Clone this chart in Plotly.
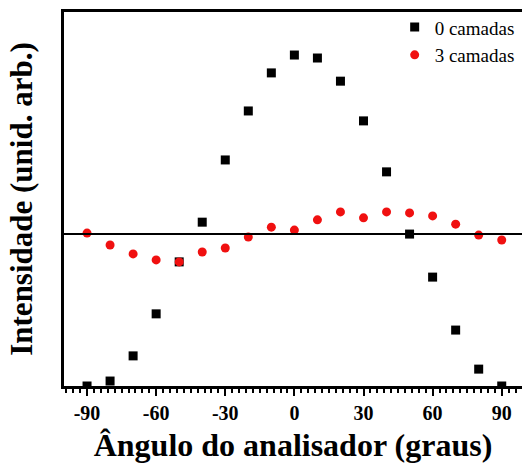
import plotly.graph_objects as go

angles = [-90, -80, -70, -60, -50, -40, -30, -20, -10, 0, 10, 20, 30, 40, 50, 60, 70, 80, 90]
camadas_0 = [0.0, 0.015, 0.091, 0.218, 0.375, 0.495, 0.683, 0.831, 0.946, 1.0,
             0.991, 0.921, 0.801, 0.647, 0.459, 0.329, 0.169, 0.051, 0.0]
camadas_3 = [0.462, 0.426, 0.399, 0.381, 0.375, 0.405, 0.417, 0.450, 0.480, 0.471,
             0.502, 0.526, 0.508, 0.526, 0.523, 0.514, 0.489, 0.456, 0.441]
ref_level = 0.459
x_ticks = [-90, -60, -30, 0, 30, 60, 90]

serif = "Liberation Serif"

fig = go.Figure()
fig.add_trace(go.Scatter(x=angles, y=camadas_0, mode="markers", name="0 camadas",
                         marker=dict(symbol="square", size=9, color="black")))
fig.add_trace(go.Scatter(x=angles, y=camadas_3, mode="markers", name="3 camadas",
                         marker=dict(symbol="circle", size=9, color="#f01010")))
fig.add_hline(y=ref_level, line=dict(color="black", width=2))

fig.update_layout(
    width=522, height=463,
    margin=dict(l=64, r=0, t=12, b=77, autoexpand=False),
    paper_bgcolor="white", plot_bgcolor="white",
    showlegend=True,
    legend=dict(x=0.722, y=1.01, xanchor="left", yanchor="top",
                font=dict(family=serif, size=19, color="black"),
                bgcolor="rgba(0,0,0,0)", tracegroupgap=0, itemwidth=30),
    font=dict(family=serif, color="black"),
)
fig.update_xaxes(
    range=[-100, 98.8], tickmode="array", tickvals=x_ticks,
    ticktext=[str(v) for v in x_ticks], automargin=False,
    showline=True, linecolor="black", linewidth=3, mirror=True,
    ticks="outside", ticklen=7, tickwidth=2, tickcolor="black",
    minor=dict(dtick=3, tick0=-90, ticks="outside", ticklen=4, tickwidth=1.5, tickcolor="black"),
    showgrid=False, zeroline=False,
    tickfont=dict(family=serif, size=20, color="black", weight="bold"),
    title=dict(text="<b>Ângulo do analisador (graus)</b>",
               font=dict(family=serif, size=32, color="black"), standoff=13),
)
fig.update_yaxes(
    range=[0, 1.13], showticklabels=False, ticks="", automargin=False,
    showline=True, linecolor="black", linewidth=3, mirror=False,
    showgrid=False, zeroline=False,
    title=dict(text="<b>Intensidade (unid. arb.)</b>",
               font=dict(family=serif, size=31, color="black"), standoff=20),
)

fig.write_html("out.html", config={"displayModeBar": False},
               post_script="document.body.style.margin='0';document.body.style.overflow='hidden';")
